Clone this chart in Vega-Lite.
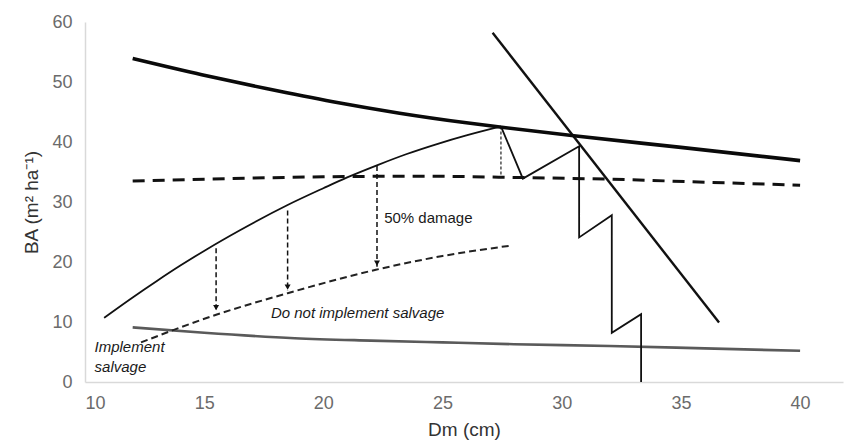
{
  "$schema": "https://vega.github.io/schema/vega-lite/v6.json",
  "width": 758,
  "height": 360,
  "autosize": {"type": "none"},
  "padding": {"left": 85, "top": 22, "right": 6, "bottom": 62},
  "background": "white",
  "config": {
    "view": {"stroke": null},
    "axis": {
      "grid": false,
      "ticks": false,
      "domainColor": "#d9d9d9",
      "domainWidth": 1.5,
      "labelColor": "#6b6b6b",
      "labelFont": "Liberation Sans",
      "labelFontSize": 18,
      "titleFont": "Liberation Sans",
      "titleFontSize": 19,
      "titleFontWeight": "normal",
      "titleColor": "#333333"
    }
  },
  "datasets": {
    "lines": [
      {"s": "upper", "o": 1, "x": 12, "y": 53.9},
      {"s": "upper", "o": 2, "x": 14.9, "y": 51.2},
      {"s": "upper", "o": 3, "x": 17.6, "y": 48.9},
      {"s": "upper", "o": 4, "x": 20.4, "y": 46.7},
      {"s": "upper", "o": 5, "x": 23.2, "y": 44.8},
      {"s": "upper", "o": 6, "x": 26, "y": 43.2},
      {"s": "upper", "o": 7, "x": 27.4, "y": 42.5},
      {"s": "upper", "o": 8, "x": 30.6, "y": 41.0},
      {"s": "upper", "o": 9, "x": 35, "y": 39.1},
      {"s": "upper", "o": 10, "x": 40, "y": 36.9},
      {"s": "steep", "o": 1, "x": 27.1, "y": 58.2},
      {"s": "steep", "o": 2, "x": 36.6, "y": 9.9},
      {"s": "curve", "o": 1, "x": 10.8, "y": 10.7},
      {"s": "curve", "o": 2, "x": 12, "y": 14.1},
      {"s": "curve", "o": 3, "x": 13, "y": 16.8},
      {"s": "curve", "o": 4, "x": 14, "y": 19.4},
      {"s": "curve", "o": 5, "x": 15.1, "y": 22.1},
      {"s": "curve", "o": 6, "x": 16.5, "y": 25.3},
      {"s": "curve", "o": 7, "x": 18.5, "y": 29.5},
      {"s": "curve", "o": 8, "x": 20, "y": 32.3},
      {"s": "curve", "o": 9, "x": 21, "y": 34.1},
      {"s": "curve", "o": 10, "x": 22.3, "y": 36.2},
      {"s": "curve", "o": 11, "x": 23.5, "y": 38.0},
      {"s": "curve", "o": 12, "x": 24.8, "y": 39.7},
      {"s": "curve", "o": 13, "x": 26, "y": 41.1},
      {"s": "curve", "o": 14, "x": 27.45, "y": 42.6},
      {"s": "zig", "o": 1, "x": 27.45, "y": 42.6},
      {"s": "zig", "o": 2, "x": 28.37, "y": 33.9},
      {"s": "zig", "o": 3, "x": 30.73, "y": 39.3},
      {"s": "zig", "o": 4, "x": 30.73, "y": 24.1},
      {"s": "zig", "o": 5, "x": 32.1, "y": 27.8},
      {"s": "zig", "o": 6, "x": 32.1, "y": 8.2},
      {"s": "zig", "o": 7, "x": 33.33, "y": 11.3},
      {"s": "zig", "o": 8, "x": 33.33, "y": 0},
      {"s": "dashH", "o": 1, "x": 12, "y": 33.5},
      {"s": "dashH", "o": 2, "x": 16, "y": 33.9},
      {"s": "dashH", "o": 3, "x": 20, "y": 34.2},
      {"s": "dashH", "o": 4, "x": 24, "y": 34.3},
      {"s": "dashH", "o": 5, "x": 28, "y": 34.1},
      {"s": "dashH", "o": 6, "x": 32, "y": 33.8},
      {"s": "dashH", "o": 7, "x": 36, "y": 33.3},
      {"s": "dashH", "o": 8, "x": 40, "y": 32.8},
      {"s": "lower", "o": 1, "x": 12.35, "y": 6.6},
      {"s": "lower", "o": 2, "x": 15.5, "y": 11.2},
      {"s": "lower", "o": 3, "x": 18.5, "y": 14.8},
      {"s": "lower", "o": 4, "x": 22.2, "y": 18.7},
      {"s": "lower", "o": 5, "x": 25, "y": 21.0},
      {"s": "lower", "o": 6, "x": 27.8, "y": 22.7},
      {"s": "grey", "o": 1, "x": 12, "y": 9.1},
      {"s": "grey", "o": 2, "x": 15, "y": 8.2},
      {"s": "grey", "o": 3, "x": 18.8, "y": 7.3},
      {"s": "grey", "o": 4, "x": 22, "y": 6.9},
      {"s": "grey", "o": 5, "x": 25, "y": 6.6},
      {"s": "grey", "o": 6, "x": 28, "y": 6.3},
      {"s": "grey", "o": 7, "x": 32, "y": 6.0},
      {"s": "grey", "o": 8, "x": 36, "y": 5.6},
      {"s": "grey", "o": 9, "x": 40, "y": 5.2},
      {"s": "peakdrop", "o": 1, "x": 27.45, "y": 42.6},
      {"s": "peakdrop", "o": 2, "x": 27.45, "y": 34.1},
      {"s": "a1", "o": 1, "x": 15.5, "y": 22.3},
      {"s": "a1", "o": 2, "x": 15.5, "y": 11.8},
      {"s": "a2", "o": 1, "x": 18.5, "y": 28.6},
      {"s": "a2", "o": 2, "x": 18.5, "y": 15.2},
      {"s": "a3", "o": 1, "x": 22.25, "y": 36.0},
      {"s": "a3", "o": 2, "x": 22.25, "y": 19.2}
    ],
    "heads": [
      {"x": 15.5, "y": 12.4},
      {"x": 18.5, "y": 15.8},
      {"x": 22.25, "y": 19.8}
    ],
    "labels": [
      {"t": "50% damage", "x": 22.55, "y": 27.3, "it": 0},
      {"t": "Do not implement salvage", "x": 17.8, "y": 11.5, "it": 1},
      {"t": "Implement", "x": 10.4, "y": 5.9, "it": 1},
      {"t": "salvage", "x": 10.4, "y": 2.55, "it": 1}
    ]
  },
  "layer": [
    {
      "data": {"name": "lines"},
      "transform": [{"filter": "datum.s === 'grey'"}],
      "mark": {"type": "line", "color": "#5a5a5a", "strokeWidth": 2.6, "interpolate": "monotone"},
      "encoding": {
        "x": {"field": "x", "type": "quantitative", "scale": {"domain": [10, 41.8], "nice": false, "zero": false}, "axis": {"title": "Dm (cm)", "values": [10, 15, 20, 25, 30, 35, 40], "labelPadding": 12, "titlePadding": 8}},
        "y": {"field": "y", "type": "quantitative", "scale": {"domain": [0, 60], "nice": false}, "axis": {"title": "BA (m² ha⁻¹)", "values": [0, 10, 20, 30, 40, 50, 60], "labelPadding": 13, "titlePadding": 10}},
        "order": {"field": "o"}
      }
    },
    {
      "data": {"name": "lines"},
      "transform": [{"filter": "datum.s === 'dashH'"}],
      "mark": {"type": "line", "color": "#111111", "strokeWidth": 3, "strokeDash": [12, 8], "interpolate": "monotone"},
      "encoding": {"x": {"field": "x", "type": "quantitative"}, "y": {"field": "y", "type": "quantitative"}, "order": {"field": "o"}}
    },
    {
      "data": {"name": "lines"},
      "transform": [{"filter": "datum.s === 'lower'"}],
      "mark": {"type": "line", "color": "#222222", "strokeWidth": 2, "strokeDash": [7, 4], "interpolate": "monotone"},
      "encoding": {"x": {"field": "x", "type": "quantitative"}, "y": {"field": "y", "type": "quantitative"}, "order": {"field": "o"}}
    },
    {
      "data": {"name": "lines"},
      "transform": [{"filter": "datum.s === 'peakdrop'"}],
      "mark": {"type": "line", "color": "#222222", "strokeWidth": 1.2, "strokeDash": [3, 2]},
      "encoding": {"x": {"field": "x", "type": "quantitative"}, "y": {"field": "y", "type": "quantitative"}, "order": {"field": "o"}}
    },
    {
      "data": {"name": "lines"},
      "transform": [{"filter": "datum.s === 'a1' || datum.s === 'a2' || datum.s === 'a3'"}],
      "mark": {"type": "line", "color": "#111111", "strokeWidth": 1.5, "strokeDash": [5, 3]},
      "encoding": {"x": {"field": "x", "type": "quantitative"}, "y": {"field": "y", "type": "quantitative"}, "detail": {"field": "s"}, "order": {"field": "o"}}
    },
    {
      "data": {"name": "heads"},
      "mark": {"type": "point", "shape": "triangle-down", "filled": true, "color": "#111111", "size": 36, "opacity": 1},
      "encoding": {"x": {"field": "x", "type": "quantitative"}, "y": {"field": "y", "type": "quantitative"}}
    },
    {
      "data": {"name": "lines"},
      "transform": [{"filter": "datum.s === 'curve'"}],
      "mark": {"type": "line", "color": "#111111", "strokeWidth": 1.8, "interpolate": "monotone"},
      "encoding": {"x": {"field": "x", "type": "quantitative"}, "y": {"field": "y", "type": "quantitative"}, "order": {"field": "o"}}
    },
    {
      "data": {"name": "lines"},
      "transform": [{"filter": "datum.s === 'zig'"}],
      "mark": {"type": "line", "color": "#111111", "strokeWidth": 1.8},
      "encoding": {"x": {"field": "x", "type": "quantitative"}, "y": {"field": "y", "type": "quantitative"}, "order": {"field": "o"}}
    },
    {
      "data": {"name": "lines"},
      "transform": [{"filter": "datum.s === 'steep'"}],
      "mark": {"type": "line", "color": "#111111", "strokeWidth": 2.4},
      "encoding": {"x": {"field": "x", "type": "quantitative"}, "y": {"field": "y", "type": "quantitative"}, "order": {"field": "o"}}
    },
    {
      "data": {"name": "lines"},
      "transform": [{"filter": "datum.s === 'upper'"}],
      "mark": {"type": "line", "color": "#0a0a0a", "strokeWidth": 3.6, "interpolate": "monotone"},
      "encoding": {"x": {"field": "x", "type": "quantitative"}, "y": {"field": "y", "type": "quantitative"}, "order": {"field": "o"}}
    },
    {
      "data": {"name": "labels"},
      "transform": [{"filter": "datum.it === 0"}],
      "mark": {"type": "text", "align": "left", "baseline": "middle", "font": "Liberation Sans", "fontSize": 15, "color": "#1a1a1a"},
      "encoding": {"x": {"field": "x", "type": "quantitative"}, "y": {"field": "y", "type": "quantitative"}, "text": {"field": "t"}}
    },
    {
      "data": {"name": "labels"},
      "transform": [{"filter": "datum.it === 1"}],
      "mark": {"type": "text", "align": "left", "baseline": "middle", "font": "Liberation Sans", "fontSize": 15, "fontStyle": "italic", "color": "#1a1a1a"},
      "encoding": {"x": {"field": "x", "type": "quantitative"}, "y": {"field": "y", "type": "quantitative"}, "text": {"field": "t"}}
    }
  ]
}
